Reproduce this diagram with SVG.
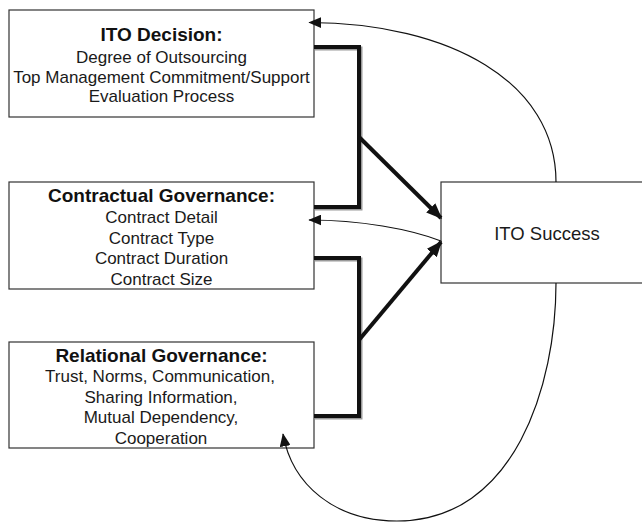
<svg xmlns="http://www.w3.org/2000/svg" width="642" height="523" viewBox="0 0 642 523">
  <style>
    .box { fill: #ffffff; stroke: #333333; stroke-width: 1.2; }
    .title { font-family: "Liberation Sans", Arial, sans-serif; font-size: 19px; font-weight: bold; fill: #111111; text-anchor: middle; }
    .item { font-family: "Liberation Sans", Arial, sans-serif; font-size: 17px; fill: #1a1a1a; text-anchor: middle; }
    .thick { fill: none; stroke: #111111; stroke-width: 4; stroke-linejoin: miter; }
    .shade { fill: none; stroke: #9a9a9a; stroke-width: 4; stroke-linejoin: miter; }
    .thin { fill: none; stroke: #111111; stroke-width: 1.2; }
  </style>
  <defs>
    <marker id="bigHead" viewBox="0 0 10 10" refX="9" refY="5" markerWidth="16" markerHeight="13" markerUnits="userSpaceOnUse" orient="auto" preserveAspectRatio="none">
      <path d="M0,0 L10,5 L0,10 Z" fill="#111111"/>
    </marker>
    <marker id="smallHead" viewBox="0 0 10 10" refX="9.5" refY="5" markerWidth="13" markerHeight="11" markerUnits="userSpaceOnUse" orient="auto" preserveAspectRatio="none">
      <path d="M0,0 L10,5 L0,10 Z" fill="#111111"/>
    </marker>
  </defs>

  <rect width="642" height="523" fill="#ffffff"/>

  <g id="ito-decision">
    <rect class="box" x="9" y="10" width="305" height="107"/>
    <text class="title" x="161.5" y="41">ITO Decision:</text>
    <text class="item" x="161.5" y="63">Degree of Outsourcing</text>
    <text class="item" x="161.5" y="83">Top Management Commitment/Support</text>
    <text class="item" x="161.5" y="102">Evaluation Process</text>
  </g>

  <g id="contractual-governance">
    <rect class="box" x="9" y="182" width="305" height="107"/>
    <text class="title" x="161.5" y="202">Contractual Governance:</text>
    <text class="item" x="161.5" y="223">Contract Detail</text>
    <text class="item" x="161.5" y="244">Contract Type</text>
    <text class="item" x="161.5" y="264">Contract Duration</text>
    <text class="item" x="161.5" y="285">Contract Size</text>
  </g>

  <g id="relational-governance">
    <rect class="box" x="9" y="342" width="305" height="106"/>
    <text class="title" x="161.5" y="362">Relational Governance:</text>
    <text class="item" x="160" y="382">Trust, Norms, Communication,</text>
    <text class="item" x="161" y="403">Sharing Information,</text>
    <text class="item" x="161" y="423">Mutual Dependency,</text>
    <text class="item" x="161" y="444">Cooperation</text>
  </g>

  <g id="ito-success">
    <rect class="box" x="441" y="182" width="212" height="101"/>
    <text class="item" x="547" y="240" style="font-size:18.5px">ITO Success</text>
  </g>

  <!-- connectors, drawn over the boxes so the arrow tips overlap the borders -->
  <g id="connectors">
    <!-- bracket shadows -->
    <path class="shade" d="M315,48.5 H360.5 V208.5 H315"/>
    <path class="shade" d="M315,259.5 H360.5 V417.5 H315"/>
    <!-- bracket joining ITO Decision and Contractual Governance -->
    <path class="thick" d="M314,47 H359 V207 H314"/>
    <path class="thick" d="M359,137 L441,218" marker-end="url(#bigHead)"/>
    <!-- bracket joining Contractual and Relational Governance -->
    <path class="thick" d="M314,258 H359 V416 H314"/>
    <path class="thick" d="M359,340 L441,242" marker-end="url(#bigHead)"/>
    <!-- feedback loops from ITO Success -->
    <path class="thin" d="M556,182 C556,82 450,23 309,22.5" marker-end="url(#smallHead)"/>
    <path class="thin" d="M441,241 C410,229 360,220 309,220" marker-end="url(#smallHead)"/>
    <path class="thin" d="M556,283 C556,385 515,521 397,521 C335,521 292,485 283,434" marker-end="url(#smallHead)"/>
  </g>
</svg>
